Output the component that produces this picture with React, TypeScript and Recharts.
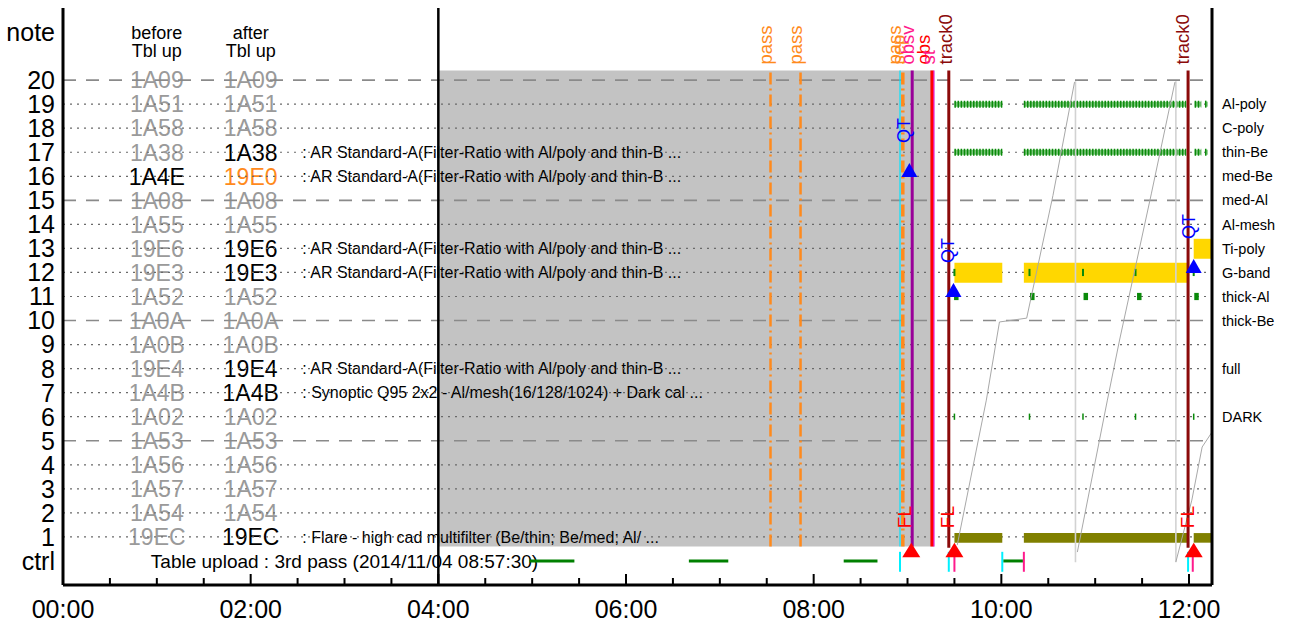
import React from "react";
import {
  ComposedChart,
  XAxis,
  YAxis,
  ReferenceLine,
  ReferenceArea,
  Scatter,
  Line,
} from "recharts";

const FONT = "'Liberation Sans', Arial, Helvetica, sans-serif";
const ORANGE = "#ff8a1c";
const PINK = "#ff1a8c";
const RED = "#ff0000";
const MAROON = "#8b0a0a";
const PURPLE = "#990099";
const GREEN = "#0a8a0a";
const GRAYTXT = "#9a9a9a";

// axis ticks
const hourTicks = [0, 2, 4, 6, 8, 10, 12];
const minorTicks = [0, 0.5, 1, 1.5, 2, 2.5, 3, 3.5, 4, 4.5, 5, 5.5, 6, 6.5, 7, 7.5, 8, 8.5, 9, 9.5, 10, 10.5, 11, 11.5, 12];
const rowTicks = [22, 20, 19, 18, 17, 16, 15, 14, 13, 12, 11, 10, 9, 8, 7, 6, 5, 4, 3, 2, 1, 0];
const dashedRows = [20, 15, 10, 5];
const dottedRows = [19, 18, 17, 16, 14, 13, 12, 11, 9, 8, 7, 6, 4, 3, 2, 1];

// table notes, row 20 down to row 1
const rows = [20, 19, 18, 17, 16, 15, 14, 13, 12, 11, 10, 9, 8, 7, 6, 5, 4, 3, 2, 1];
const beforeCodes = ["1A09", "1A51", "1A58", "1A38", "1A4E", "1A08", "1A55", "19E6", "19E3", "1A52", "1A0A", "1A0B", "19E4", "1A4B", "1A02", "1A53", "1A56", "1A57", "1A54", "19EC"];
const afterCodes = ["1A09", "1A51", "1A58", "1A38", "19E0", "1A08", "1A55", "19E6", "19E3", "1A52", "1A0A", "1A0B", "19E4", "1A4B", "1A02", "1A53", "1A56", "1A57", "1A54", "19EC"];
const beforeLive = [16];
const afterLive = [17, 13, 12, 8, 7, 1];
const afterNew = [16];

const descRows = [17, 16, 13, 12, 8, 7, 1];
const descTexts = [
  ": AR Standard-A(Filter-Ratio with Al/poly and thin-B ...",
  ": AR Standard-A(Filter-Ratio with Al/poly and thin-B ...",
  ": AR Standard-A(Filter-Ratio with Al/poly and thin-B ...",
  ": AR Standard-A(Filter-Ratio with Al/poly and thin-B ...",
  ": AR Standard-A(Filter-Ratio with Al/poly and thin-B ...",
  ": Synoptic Q95 2x2 - Al/mesh(16/128/1024) + Dark cal ...",
  ": Flare - high cad multifilter (Be/thin; Be/med; Al/ ...",
];

const filterRows = [19, 18, 17, 16, 15, 14, 13, 12, 11, 10, 8, 6];
const filterNames = ["Al-poly", "C-poly", "thin-Be", "med-Be", "med-Al", "Al-mesh", "Ti-poly", "G-band", "thick-Al", "thick-Be", "full", "DARK"];

// table upload block (hours)
const uploadStart = 4;
const uploadEnd = 9.29;

// event lines (hours)
const passTimes = [7.54, 7.86, 8.95];
const qtLineTime = 8.92;
const obsvTime = 9.05;
const obsTime = 9.26;
const trackTimes = [9.44, 11.99];
const resetTimes = [10.79, 11.86];

const topLabelTimes = [7.56, 7.88, 8.93, 8.97, 9.07, 9.24, 9.29, 9.47, 12.0];
const topLabelTexts = ["pass", "pass", "pass", "sep", "obsv", "obs", "st", "track0", "track0"];

// QT (blue) and FL (red) markers
const qtTimes = [9.02, 9.49, 12.05];
const qtRows = [16.26, 11.27, 12.27];
const flTimes = [9.04, 9.5, 12.05];

// observations
const oliveSpans = [[9.5, 10.01], [10.24, 11.99], [12.05, 12.245]];
const gbandSpans = [[9.5, 10.01], [10.24, 11.99]];
const tipolySpans = [[12.05, 12.245]];
const hatchSpans = [[9.5, 10.01], [10.24, 11.97], [12.06, 12.13], [12.17, 12.2]];
const gbandTicks = [9.5, 10.3, 10.87, 11.43, 11.99, 12.05];
const thickAlTicks = [9.52, 10.33, 10.9, 11.47, 12.08];
const darkTicks = [9.5, 10.3, 10.87, 11.43, 11.99, 12.05];

// ctrl row
const ctrlSpans = [[4.97, 5.45], [6.67, 7.09], [8.32, 8.68], [10.02, 10.23]];
const cyanTicks = [8.92, 9.44, 10.01, 11.99];
const pinkTicks = [9.5, 10.24, 12.04];

// sawtooth (hours, row units)
const ramp1 = [
  { t: 9.53, v: 0.66 },
  { t: 9.84, v: 6.69 },
  { t: 9.98, v: 9.94 },
  { t: 10.27, v: 10.1 },
  { t: 10.55, v: 15.2 },
  { t: 10.78, v: 19.92 },
];
const ramp2 = [
  { t: 10.81, v: 0.37 },
  { t: 11.13, v: 6.69 },
  { t: 11.26, v: 9.19 },
  { t: 11.6, v: 15.3 },
  { t: 11.85, v: 19.92 },
];
const ramp3 = [
  { t: 11.86, v: -0.04 },
  { t: 12.03, v: 2.53 },
  { t: 12.14, v: 4.74 },
  { t: 12.245, v: 5.36 },
];

const labelColor: Record<string, string> = {
  pass: ORANGE,
  sep: ORANGE,
  obsv: PINK,
  obs: RED,
  st: PINK,
  track0: MAROON,
};

const hh = (v: number) => `${String(v).padStart(2, "0")}:00`;

const codeColor = (row: number, live: number[], fresh: number[]) =>
  fresh.includes(row) ? ORANGE : live.includes(row) ? "#000" : GRAYTXT;

const codePoints = [
  ...rows.map((r, i) => ({ t: 1, v: r, text: beforeCodes[i], color: codeColor(r, beforeLive, []) })),
  ...rows.map((r, i) => ({ t: 2, v: r, text: afterCodes[i], color: codeColor(r, afterLive, afterNew) })),
];
const descPoints = descRows.map((r, i) => ({ t: 2.55, v: r, text: descTexts[i] }));
const headerPoints = [
  { t: 1, v: 21.71, text: "before" },
  { t: 1, v: 20.96, text: "Tbl up" },
  { t: 2, v: 21.71, text: "after" },
  { t: 2, v: 20.96, text: "Tbl up" },
];
const uploadPoints = [{ t: 3, v: 0, text: "Table upload : 3rd pass (2014/11/04 08:57:30)" }];
const topLabelPoints = topLabelTimes.map((t, i) => ({ t, v: 20.65, text: topLabelTexts[i] }));
const qtPoints = qtTimes.map((t, i) => ({ t, v: qtRows[i] }));
const flPoints = flTimes.map((t) => ({ t, v: 0.45 }));

const BottomTick = (props: any) => {
  const { x, y, payload } = props;
  const major = hourTicks.includes(payload.value);
  return (
    <g>
      <line x1={x} x2={x} y1={y} y2={y - (major ? 11 : 7)} stroke="#000" strokeWidth={2} />
      {major && (
        <text x={x} y={y + 33} textAnchor="middle" fontSize={25} fontFamily={FONT} fill="#000">
          {hh(payload.value)}
        </text>
      )}
    </g>
  );
};

const TopTick = (props: any) => {
  const { x, y, payload } = props;
  const major = hourTicks.includes(payload.value);
  return <line x1={x} x2={x} y1={y} y2={y + (major ? 11 : 7)} stroke="#000" strokeWidth={2} />;
};

const codeShape = (p: any) => (
  <text x={p.cx} y={p.cy} dy="0.36em" textAnchor="middle" fontSize={23} fontFamily={FONT} fill={p.payload.color}>
    {p.payload.text}
  </text>
);
const descShape = (p: any) => (
  <text x={p.cx} y={p.cy} dy="0.36em" textAnchor="start" fontSize={16} fontFamily={FONT} fill="#000">
    {p.payload.text}
  </text>
);
const headerShape = (p: any) => (
  <text x={p.cx} y={p.cy} textAnchor="middle" fontSize={18} fontFamily={FONT} fill="#000">
    {p.payload.text}
  </text>
);
const uploadShape = (p: any) => (
  <text x={p.cx} y={p.cy} dy="0.36em" textAnchor="middle" fontSize={19} fontFamily={FONT} fill="#000">
    {p.payload.text}
  </text>
);
const topLabelShape = (p: any) => (
  <text
    x={p.cx}
    y={p.cy}
    transform={`rotate(-90 ${p.cx} ${p.cy})`}
    fontSize={18.5}
    fontFamily={FONT}
    fill={labelColor[p.payload.text]}
  >
    {p.payload.text}
  </text>
);
const qtShape = (p: any) => (
  <g>
    <polygon points={`${p.cx},${p.cy - 7} ${p.cx - 8},${p.cy + 7} ${p.cx + 8},${p.cy + 7}`} fill="#0000ff" />
    <text x={p.cx + 1} y={p.cy - 27} transform={`rotate(-90 ${p.cx + 1} ${p.cy - 27})`} fontSize={18} fontFamily={FONT} fill="#0000ff">
      QT
    </text>
  </g>
);
const flShape = (p: any) => (
  <g>
    <polygon points={`${p.cx},${p.cy - 7.5} ${p.cx - 9},${p.cy + 7} ${p.cx + 9},${p.cy + 7}`} fill={RED} />
    <text x={p.cx} y={p.cy - 22} transform={`rotate(-90 ${p.cx} ${p.cy - 22})`} fontSize={19} fontFamily={FONT} fill={RED}>
      FL
    </text>
  </g>
);

const vSeg = (t: number, a: number, b: number) => [
  { x: t, y: a },
  { x: t, y: b },
];
const hSeg = (a: number, b: number, v: number) => [
  { x: a, y: v },
  { x: b, y: v },
];

export default function App() {
  return (
    <div style={{ position: "absolute", left: 0, top: 0 }}>
      <ComposedChart width={1296} height={625} margin={{ top: 8, right: 0, bottom: 0, left: 0 }}>
        <XAxis
          dataKey="t"
          type="number"
          domain={[0, 12.245]}
          allowDataOverflow
          ticks={minorTicks}
          interval={0}
          height={40}
          tickSize={0}
          tickMargin={0}
          tickLine={false}
          axisLine={{ stroke: "#000", strokeWidth: 3 }}
          tick={(p: any) => <BottomTick {...p} />}
        />
        <XAxis
          xAxisId="top"
          orientation="top"
          dataKey="t"
          type="number"
          domain={[0, 12.245]}
          allowDataOverflow
          ticks={minorTicks}
          interval={0}
          height={0}
          tickSize={0}
          tickMargin={0}
          tickLine={false}
          axisLine={{ stroke: "#000", strokeWidth: 3 }}
          tick={(p: any) => <TopTick {...p} />}
        />
        <YAxis
          dataKey="v"
          type="number"
          domain={[-1, 23]}
          allowDataOverflow
          ticks={rowTicks}
          interval={0}
          width={63}
          tickSize={0}
          tickMargin={8}
          tickLine={false}
          axisLine={{ stroke: "#000", strokeWidth: 3 }}
          tick={{ fontSize: 25, fill: "#000", fontFamily: FONT }}
          tickFormatter={(v: number) => (v === 22 ? "note" : v === 0 ? "ctrl" : String(v))}
        />
        <YAxis
          yAxisId="right"
          orientation="right"
          dataKey="v"
          type="number"
          domain={[-1, 23]}
          allowDataOverflow
          ticks={filterRows}
          interval={0}
          width={84}
          tickSize={0}
          tickMargin={10}
          tickLine={false}
          axisLine={{ stroke: "#000", strokeWidth: 3 }}
          tick={{ fontSize: 14.5, fill: "#000", fontFamily: FONT }}
          tickFormatter={(v: number) => filterNames[filterRows.indexOf(v)] ?? ""}
        />

        <ReferenceArea
          x1={uploadStart}
          x2={uploadEnd}
          y1={0.6}
          y2={20.4}
          fill="#c3c3c3"
          fillOpacity={1}
          stroke="none"
          zIndex={10}
        />

        <Scatter data={codePoints} shape={codeShape} isAnimationActive={false} zIndex={20} />
        <Scatter data={descPoints} shape={descShape} isAnimationActive={false} zIndex={20} />
        <Scatter data={headerPoints} shape={headerShape} isAnimationActive={false} zIndex={20} />
        <Scatter data={uploadPoints} shape={uploadShape} isAnimationActive={false} zIndex={20} />

        {dashedRows.map((r) => (
          <ReferenceLine key={`d${r}`} y={r} stroke="#8a8a8a" strokeWidth={1.6} strokeDasharray="13 10" zIndex={30} />
        ))}
        {dottedRows.map((r) => (
          <ReferenceLine key={`o${r}`} y={r} stroke="#6a6a6a" strokeWidth={1.2} strokeDasharray="2 5" zIndex={30} />
        ))}

        {oliveSpans.map(([a, b], i) => (
          <ReferenceArea key={`ol${i}`} x1={a} x2={b} y1={0.76} y2={1.16} fill="#808000" fillOpacity={1} stroke="none" zIndex={40} />
        ))}
        {gbandSpans.map(([a, b], i) => (
          <ReferenceArea key={`gb${i}`} x1={a} x2={b} y1={11.57} y2={12.4} fill="#ffd700" fillOpacity={1} stroke="none" zIndex={40} />
        ))}
        {tipolySpans.map(([a, b], i) => (
          <ReferenceArea key={`tp${i}`} x1={a} x2={b} y1={12.57} y2={13.4} fill="#ffd700" fillOpacity={1} stroke="none" zIndex={40} />
        ))}

        {[19, 17].map((r) =>
          hatchSpans.map(([a, b], i) => (
            <ReferenceLine key={`hl${r}-${i}`} segment={hSeg(a, b, r)} stroke="#7cc87c" strokeWidth={5} zIndex={50} />
          )),
        )}
        {[19, 17].map((r) =>
          hatchSpans.map(([a, b], i) => (
            <ReferenceLine key={`h${r}-${i}`} segment={hSeg(a, b, r)} stroke={GREEN} strokeWidth={7} strokeDasharray="1.5 1.6" zIndex={50} />
          )),
        )}
        {gbandTicks.map((t, i) => (
          <ReferenceLine key={`gt${i}`} segment={vSeg(t, 11.85, 12.15)} stroke={GREEN} strokeWidth={2} zIndex={50} />
        ))}
        {thickAlTicks.map((t, i) => (
          <ReferenceLine key={`ta${i}`} segment={vSeg(t, 10.85, 11.15)} stroke={GREEN} strokeWidth={4.5} zIndex={50} />
        ))}
        {darkTicks.map((t, i) => (
          <ReferenceLine key={`dk${i}`} segment={vSeg(t, 5.87, 6.13)} stroke={GREEN} strokeWidth={1.5} zIndex={50} />
        ))}

        {resetTimes.map((t, i) => (
          <ReferenceLine key={`rs${i}`} segment={vSeg(t, -0.05, 19.95)} stroke="#d2d2d2" strokeWidth={1.6} zIndex={60} />
        ))}
        <Line data={ramp1} dataKey="v" type="linear" dot={false} stroke="#a8a8a8" strokeWidth={1} isAnimationActive={false} zIndex={60} />
        <Line data={ramp2} dataKey="v" type="linear" dot={false} stroke="#a8a8a8" strokeWidth={1} isAnimationActive={false} zIndex={60} />
        <Line data={ramp3} dataKey="v" type="linear" dot={false} stroke="#a8a8a8" strokeWidth={1} isAnimationActive={false} zIndex={60} />

        <ReferenceLine segment={vSeg(qtLineTime, 0.6, 20.4)} stroke="#00e5ff" strokeWidth={1.2} zIndex={70} />
        {passTimes.map((t, i) => (
          <ReferenceLine
            key={`p${i}`}
            segment={vSeg(t, 0.6, 20.4)}
            stroke={ORANGE}
            strokeWidth={i === 2 ? 3.5 : 2.5}
            strokeDasharray="12 4 2 4"
            zIndex={70}
          />
        ))}
        <ReferenceLine segment={vSeg(obsvTime, 0.6, 20.4)} stroke={PURPLE} strokeWidth={3} zIndex={70} />
        <ReferenceLine segment={vSeg(obsTime + 0.02, 0.6, 20.4)} stroke="#ff00ff" strokeWidth={1.2} zIndex={70} />
        <ReferenceLine segment={vSeg(obsTime, 0.6, 20.4)} stroke={RED} strokeWidth={3} zIndex={70} />
        {trackTimes.map((t, i) => (
          <ReferenceLine key={`tr${i}`} segment={vSeg(t, 0.55, 20.4)} stroke={MAROON} strokeWidth={3} zIndex={70} />
        ))}

        {ctrlSpans.map(([a, b], i) => (
          <ReferenceLine key={`c${i}`} segment={hSeg(a, b, 0)} stroke="#008000" strokeWidth={3} zIndex={70} />
        ))}
        {cyanTicks.map((t, i) => (
          <ReferenceLine key={`cy${i}`} segment={vSeg(t, -0.45, 0.38)} stroke="#00f0ff" strokeWidth={2} zIndex={70} />
        ))}
        {pinkTicks.map((t, i) => (
          <ReferenceLine key={`pk${i}`} segment={vSeg(t, -0.45, 0.38)} stroke={PINK} strokeWidth={2} zIndex={70} />
        ))}

        <Scatter data={topLabelPoints} shape={topLabelShape} isAnimationActive={false} zIndex={80} />
        <Scatter data={qtPoints} shape={qtShape} isAnimationActive={false} zIndex={80} />
        <Scatter data={flPoints} shape={flShape} isAnimationActive={false} zIndex={80} />

        <ReferenceLine x={uploadStart} stroke="#000" strokeWidth={2.5} zIndex={90} />
      </ComposedChart>
    </div>
  );
}
